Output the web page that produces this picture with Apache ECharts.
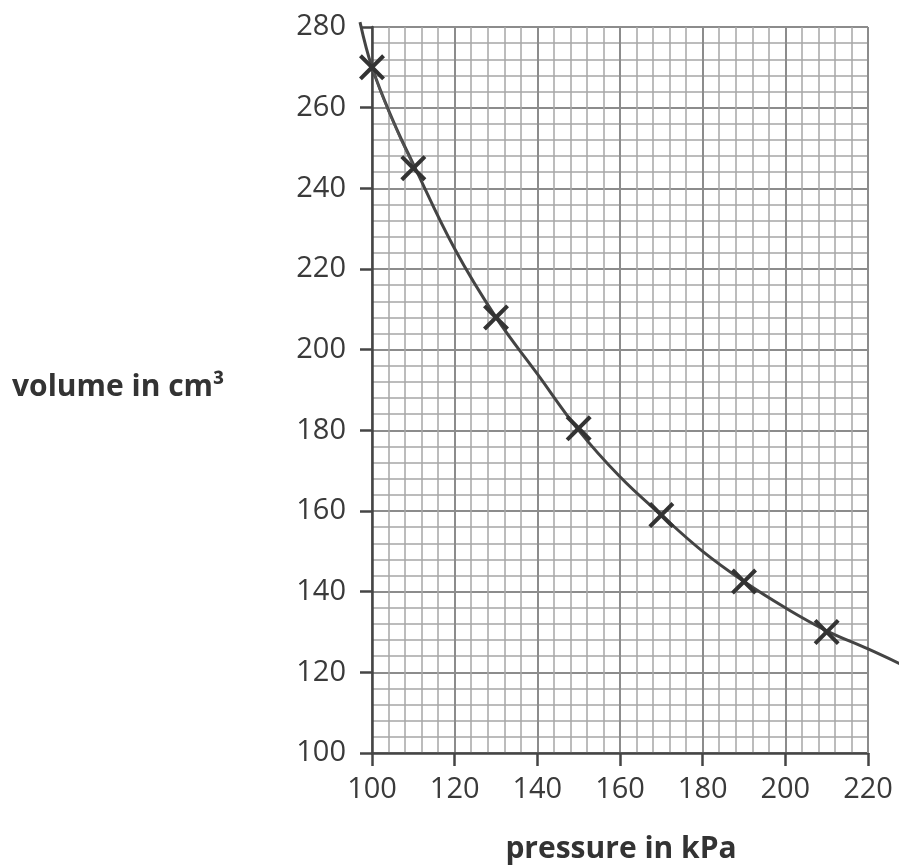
<!DOCTYPE html>
<html>
<head>
<meta charset="utf-8">
<script src="https://cdn.jsdelivr.net/npm/echarts@6/dist/echarts.min.js"></script>
<style>
html,body{margin:0;padding:0;background:#fff;}
#chart{width:899px;height:867px;}
</style>
</head>
<body>
<div id="chart"></div>
<script>
// Measured points (pressure kPa, volume cm3)
var pressure = [100, 110, 130, 150, 170, 190, 210];
var volume = [270, 245, 208, 180.5, 159, 142.5, 130];
// Hand-drawn best-fit curve
var curveP = [97.1, 100, 105, 110, 120, 130, 140, 150, 160, 170, 180, 190, 200, 210, 220, 228];
var curveV = [281.2, 270, 257, 246, 225, 208, 194, 180, 168.5, 159, 150, 142.5, 136, 130.3, 125.8, 122];
// second (overdrawn) stroke near the top
var strokeP = [100, 104, 110];
var strokeV = [270, 259, 245.5];
var xTicks = [100, 120, 140, 160, 180, 200, 220];
var yTicks = [100, 120, 140, 160, 180, 200, 220, 240, 260, 280];
var xLabel = 'pressure in kPa';
var yLabel = 'volume in cm³';

var pts = pressure.map(function (p, i) { return [p, volume[i]]; });
var curve = curveP.map(function (p, i) { return [p, curveV[i]]; });
var stroke2 = strokeP.map(function (p, i) { return [p, strokeV[i]]; });

var crossPath = 'path://M0,11L11,0L50,39L89,0L100,11L61,50L100,89L89,100L50,61L11,100L0,89L39,50Z';
var font = '"Open Sans", "Noto Sans", sans-serif';
var textCol = '#3a3a3a';

// main plot grid
var G = { left: 372, right: 31, top: 27, bottom: 114 };
var W = 899, H = 867;
var xMin = xTicks[0], xMax = xTicks[xTicks.length - 1];
var yMin = yTicks[0], yMax = yTicks[yTicks.length - 1];
var pxPerX = (W - G.left - G.right) / (xMax - xMin);
var pxPerY = (H - G.top - G.bottom) / (yMax - yMin);
// overlay grid (same scale, larger area) so the drawn curve can run past the frame
var G2 = { left: 352, right: 0, top: 0, bottom: 114 };
var x2Min = xMin - (G.left - G2.left) / pxPerX;
var x2Max = xMax + (G.right - G2.right) / pxPerX;
var y2Min = yMin;
var y2Max = yMax + (G.top - G2.top) / pxPerY;

var chart = echarts.init(document.getElementById('chart'));
chart.setOption({
  backgroundColor: '#fff',
  animation: false,
  grid: [
    { left: G.left, right: G.right, top: G.top, bottom: G.bottom, containLabel: false },
    { left: G2.left, right: G2.right, top: G2.top, bottom: G2.bottom, containLabel: false }
  ],
  xAxis: [{
    type: 'value', gridIndex: 0, min: xMin, max: xMax, interval: 20,
    axisLine: { show: true, lineStyle: { color: '#454545', width: 2.5 } },
    axisTick: { show: true, length: 13, lineStyle: { color: '#454545', width: 2.5 } },
    axisLabel: { color: textCol, fontSize: 29, fontFamily: font, margin: 22 },
    splitLine: { show: true, lineStyle: { color: '#8c8c8c', width: 2 } },
    minorTick: { show: false, splitNumber: 5 },
    minorSplitLine: { show: true, lineStyle: { color: '#a6a6a6', width: 1.5 } }
  }, {
    type: 'value', gridIndex: 1, min: x2Min, max: x2Max, show: false,
    splitLine: { show: false }
  }],
  yAxis: [{
    type: 'value', gridIndex: 0, min: yMin, max: yMax, interval: 20,
    axisLine: { show: true, lineStyle: { color: '#454545', width: 2.5 } },
    axisTick: { show: true, length: 12, lineStyle: { color: '#454545', width: 2.5 } },
    axisLabel: { color: textCol, fontSize: 29, fontFamily: font, margin: 26 },
    splitLine: { show: true, lineStyle: { color: '#8c8c8c', width: 2 } },
    minorTick: { show: false, splitNumber: 5 },
    minorSplitLine: { show: true, lineStyle: { color: '#a6a6a6', width: 1.5 } }
  }, {
    type: 'value', gridIndex: 1, min: y2Min, max: y2Max, show: false,
    splitLine: { show: false }
  }],
  graphic: [
    { type: 'text', x: 12, y: 387, style: { text: yLabel, fill: '#333', font: 'bold 30px ' + font, verticalAlign: 'middle' } },
    { type: 'text', x: 621, y: 849, style: { text: xLabel, fill: '#333', font: 'bold 30px ' + font, align: 'center', verticalAlign: 'middle' } },
    // right border of paper grid
    { type: 'line', shape: { x1: W - G.right, y1: G.top, x2: W - G.right, y2: H - G.bottom }, style: { stroke: '#8c8c8c', lineWidth: 2 }, z: 1 }
  ],
  series: [
    {
      type: 'line', xAxisIndex: 1, yAxisIndex: 1, data: curve, smooth: 0.4, symbol: 'none', clip: false,
      lineStyle: { color: '#444', width: 3 }, z: 3
    },
    {
      type: 'line', xAxisIndex: 1, yAxisIndex: 1, data: stroke2, smooth: 0.5, symbol: 'none', clip: false,
      lineStyle: { color: '#555', width: 2 }, z: 3
    },
    {
      type: 'scatter', xAxisIndex: 0, yAxisIndex: 0, data: pts, symbol: crossPath, symbolSize: 26,
      itemStyle: { color: '#333', opacity: 1 }, z: 4
    }
  ]
});
</script>
</body>
</html>
